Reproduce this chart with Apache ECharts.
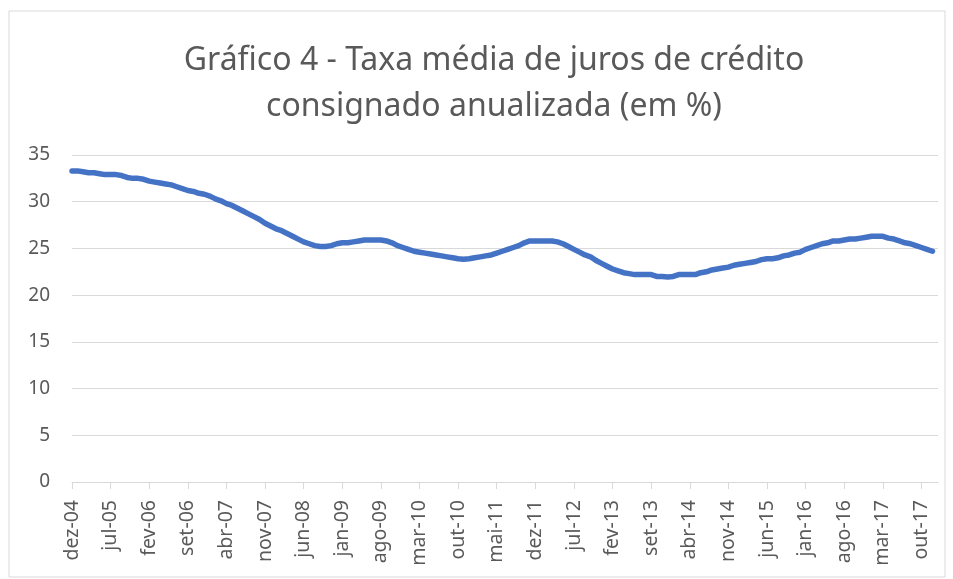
<!DOCTYPE html>
<html>
<head>
<meta charset="utf-8">
<script src="https://cdn.jsdelivr.net/npm/echarts@6/dist/echarts.min.js"></script>
<style>
    html, body { margin: 0; padding: 0; background: #fff; }
    #chart { width: 953px; height: 579px; }
</style>
</head>
<body>
<div id="chart"></div>
<script>
// meses em portugues, serie mensal de dez-04 a dez-17 (+ jan-18 vazio no eixo)
var meses = ['jan', 'fev', 'mar', 'abr', 'mai', 'jun', 'jul', 'ago', 'set', 'out', 'nov', 'dez'];
var categorias = ['dez-04'];
for (var ano = 5; ano <= 17; ano++) {
    for (var m = 0; m < 12; m++) {
        categorias.push(meses[m] + '-' + (ano < 10 ? '0' + ano : ano));
    }
}
categorias.push('jan-18');

var taxa = [
    33.3,
    33.3, 33.2, 33.1, 33.1, 33.0, 32.9, 32.9, 32.9, 32.8, 32.6, 32.5, 32.5,
    32.4, 32.2, 32.1, 32.0, 31.9, 31.8, 31.6, 31.4, 31.2, 31.1, 30.9, 30.8,
    30.6, 30.3, 30.1, 29.8, 29.6, 29.3, 29.0, 28.7, 28.4, 28.1, 27.7, 27.4,
    27.1, 26.9, 26.6, 26.3, 26.0, 25.7, 25.5, 25.3, 25.2, 25.2, 25.3, 25.5,
    25.6, 25.6, 25.7, 25.8, 25.9, 25.9, 25.9, 25.9, 25.8, 25.6, 25.3, 25.1,
    24.9, 24.7, 24.6, 24.5, 24.4, 24.3, 24.2, 24.1, 24.0, 23.9, 23.85, 23.9,
    24.0, 24.1, 24.2, 24.3, 24.5, 24.7, 24.9, 25.1, 25.3, 25.6, 25.8, 25.8,
    25.8, 25.8, 25.8, 25.7, 25.5, 25.2, 24.9, 24.6, 24.3, 24.1, 23.7, 23.4,
    23.1, 22.8, 22.6, 22.4, 22.3, 22.2, 22.2, 22.2, 22.2, 22.0, 22.0, 21.95,
    22.0, 22.2, 22.2, 22.2, 22.2, 22.4, 22.5, 22.7, 22.8, 22.9, 23.0, 23.2,
    23.3, 23.4, 23.5, 23.6, 23.8, 23.9, 23.9, 24.0, 24.2, 24.3, 24.5, 24.6,
    24.9, 25.1, 25.3, 25.5, 25.6, 25.8, 25.8, 25.9, 26.0, 26.0, 26.1, 26.2,
    26.3, 26.3, 26.3, 26.1, 26.0, 25.8, 25.6, 25.5, 25.3, 25.1, 24.9, 24.7
];

var titulo = 'Gráfico 4 - Taxa média de juros de crédito\nconsignado anualizada (em %)';

var chartDom = document.getElementById('chart');
var myChart = echarts.init(chartDom);
var option;

option = {
    animation: false,
    textStyle: { fontFamily: 'Noto Sans' },
    title: {
        text: titulo,
        left: 489,
        top: 33,
        textAlign: 'center',
        textStyle: {
            color: '#595959',
            fontSize: 32,
            fontWeight: 'normal',
            fontFamily: 'Noto Sans',
            lineHeight: 46
        }
    },
    graphic: [
        {
            type: 'rect',
            shape: { x: 9, y: 11, width: 936, height: 566 },
            style: { fill: 'none', stroke: '#d9d9d9', lineWidth: 1 },
            silent: true
        }
    ],
    grid: {
        left: 72,
        right: 15,
        top: 155,
        bottom: 97
    },
    xAxis: {
        type: 'category',
        data: categorias,
        boundaryGap: false,
        axisLine: { lineStyle: { color: '#d9d9d9', width: 1 } },
        axisTick: { show: true, interval: 6, length: 7, lineStyle: { color: '#d9d9d9' } },
        axisLabel: {
            interval: 6,
            rotate: 90,
            margin: 18,
            color: '#595959',
            fontSize: 19.5,
            fontFamily: 'Noto Sans'
        },
        splitLine: { show: false }
    },
    yAxis: {
        type: 'value',
        min: 0,
        max: 35,
        interval: 5,
        axisLine: { show: false },
        axisTick: { show: false },
        axisLabel: {
            margin: 22,
            color: '#595959',
            fontSize: 19,
            fontFamily: 'Noto Sans'
        },
        splitLine: { lineStyle: { color: '#d9d9d9', width: 1 } }
    },
    series: [
        {
            name: 'Taxa',
            type: 'line',
            data: taxa,
            showSymbol: false,
            symbol: 'none',
            lineStyle: { color: '#4472C4', width: 5.5, cap: 'round', join: 'round' }
        }
    ]
};
option && myChart.setOption(option);
</script>
</body>
</html>
